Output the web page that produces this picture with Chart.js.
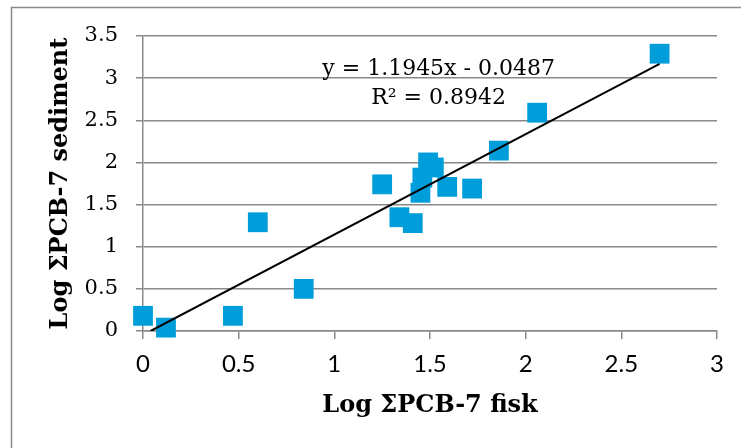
<!DOCTYPE html>
<html>
<head>
<meta charset="utf-8">
<script src="https://cdn.jsdelivr.net/npm/chart.js@4"></script>
<style>
  html, body { margin: 0; padding: 0; background: #fff; }
  #wrap { width: 741px; height: 448px; position: relative; }
</style>
</head>
<body>
<div id="wrap"><canvas id="pcbChart" width="741" height="448"></canvas></div>
<script>
// Log ΣPCB-7 fisk (x) mot Log ΣPCB-7 sediment (y)
const fiskLog = [0.00, 0.12, 0.47, 0.60, 0.84, 1.25, 1.34, 1.41, 1.45, 1.46, 1.49, 1.52, 1.59, 1.72, 1.86, 2.06, 2.70];
const sedimentLog = [0.18, 0.04, 0.18, 1.29, 0.50, 1.74, 1.35, 1.28, 1.64, 1.82, 2.00, 1.94, 1.71, 1.69, 2.14, 2.59, 3.29];

// trendlinje, endepunkter lest av figuren
const trendX = [0.04, 2.70];
const trendY = [0.00, 3.17];

const xTickLabels = ["0", "0.5", "1", "1.5", "2", "2.5", "3"];
const yTickLabels = ["0", "0.5", "1", "1.5", "2", "2.5", "3", "3.5"];

const equationLines = ["y = 1.1945x - 0.0487", "R² = 0.8942"];

const axisGray = "#898989";
const markerBlue = "#009ddb";

const punkter = fiskLog.map((x, i) => ({ x, y: sedimentLog[i] }));
const trendPunkter = trendX.map((x, i) => ({ x, y: trendY[i] }));

// ytre ramme rundt diagramområdet
const rammePlugin = {
    id: "ramme",
    beforeDraw(chart) {
        const ctx = chart.ctx;
        ctx.save();
        ctx.strokeStyle = "#8a8a8a";
        ctx.lineWidth = 1.5;
        ctx.beginPath();
        ctx.moveTo(11.5, 448);
        ctx.lineTo(11.5, 7.5);
        ctx.lineTo(741, 7.5);
        ctx.stroke();
        ctx.restore();
    }
};

// likning og R² for trendlinjen
const likningPlugin = {
    id: "likning",
    afterDatasetsDraw(chart) {
        const ctx = chart.ctx;
        const xs = chart.scales.x;
        const ys = chart.scales.y;
        const cx = xs.getPixelForValue(1.545);
        ctx.save();
        ctx.fillStyle = "#000";
        ctx.font = "22px 'DejaVu Serif'";
        ctx.textAlign = "center";
        ctx.textBaseline = "middle";
        ctx.fillText(equationLines[0], cx, ys.getPixelForValue(3.11));
        ctx.fillText(equationLines[1], cx, ys.getPixelForValue(2.76));
        ctx.restore();
    }
};

new Chart(document.querySelector("#pcbChart"), {
    type: "scatter",
    data: {
        datasets: [
            {
                label: "Lineær trend",
                data: trendPunkter,
                showLine: true,
                borderColor: "#000",
                borderWidth: 2,
                pointRadius: 0,
                fill: false
            },
            {
                label: "Prøver",
                data: punkter,
                clip: false,
                pointStyle: "rect",
                pointRadius: 14,
                pointHoverRadius: 14,
                backgroundColor: markerBlue,
                borderColor: markerBlue,
                borderWidth: 0
            }
        ]
    },
    options: {
        responsive: false,
        animation: false,
        layout: { padding: { top: 36, right: 24, bottom: 0, left: 0 } },
        plugins: {
            legend: { display: false },
            tooltip: { enabled: false }
        },
        scales: {
            x: {
                type: "linear",
                min: 0,
                max: 3,
                afterFit(scale) { scale.height = 117; },
                ticks: {
                    stepSize: 0.5,
                    color: "#000",
                    padding: 11,
                    font: { family: "Lato", size: 24 },
                    callback: (value, index) => xTickLabels[index]
                },
                grid: {
                    drawOnChartArea: false,
                    drawTicks: true,
                    tickLength: 8,
                    color: axisGray,
                    lineWidth: 1.5
                },
                border: { display: true, color: axisGray, width: 1.5 },
                title: {
                    display: true,
                    text: "Log ΣPCB-7 fisk",
                    color: "#000",
                    font: { family: "DejaVu Serif", size: 24, weight: "bold" },
                    padding: { top: 0, bottom: 28 }
                }
            },
            y: {
                type: "linear",
                min: 0,
                max: 3.5,
                afterFit(scale) { scale.width = 143; },
                ticks: {
                    stepSize: 0.5,
                    color: "#000",
                    padding: 18,
                    font: { family: "DejaVu Serif", size: 21 },
                    callback: (value, index) => yTickLabels[index]
                },
                grid: {
                    drawTicks: true,
                    tickLength: 7,
                    color: axisGray,
                    lineWidth: 1.5
                },
                border: { display: true, color: axisGray, width: 1.5 },
                title: {
                    display: true,
                    text: "Log ΣPCB-7 sediment",
                    color: "#000",
                    font: { family: "DejaVu Serif", size: 24, weight: "bold" },
                    padding: { top: 46, bottom: 0 }
                }
            }
        }
    },
    plugins: [rammePlugin, likningPlugin]
});
</script>
</body>
</html>
